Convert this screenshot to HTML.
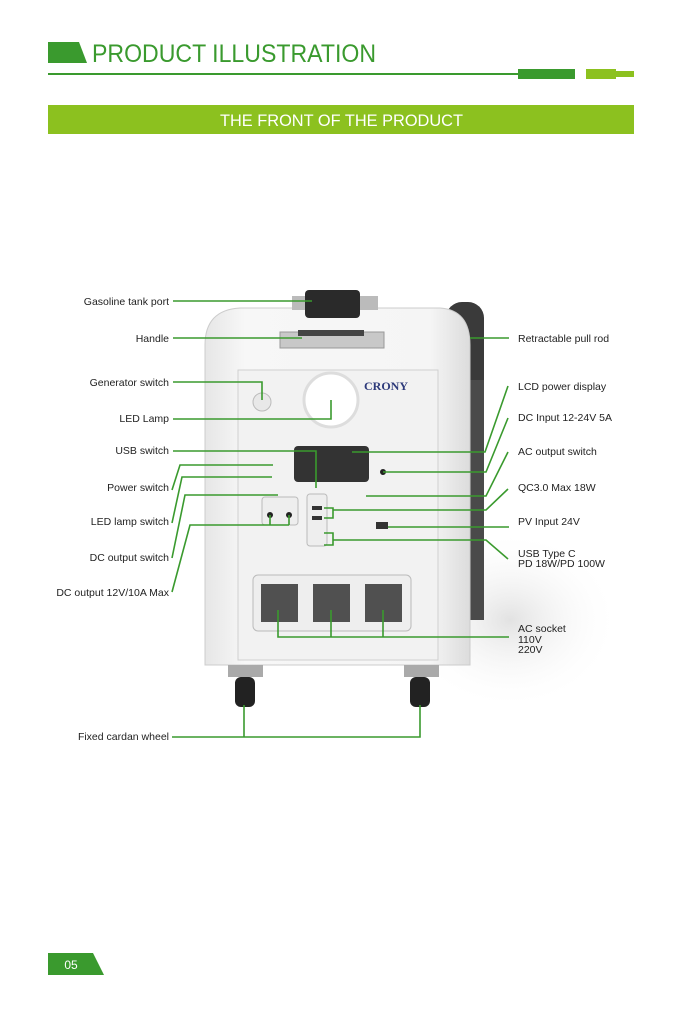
<!DOCTYPE html>
<html><head><meta charset="utf-8"><style>
html,body{margin:0;padding:0;background:#fff}
svg{display:block}
text{font-family:"Liberation Sans",sans-serif}
</style></head><body>
<svg width="683" height="1024" viewBox="0 0 683 1024" xmlns="http://www.w3.org/2000/svg">
<defs>
<linearGradient id="body" x1="0" x2="1"><stop offset="0" stop-color="#e6e6e6"/><stop offset="0.15" stop-color="#f7f7f7"/><stop offset="0.85" stop-color="#f5f5f5"/><stop offset="1" stop-color="#dcdcdc"/></linearGradient>
<radialGradient id="shadow" cx="0.5" cy="0.5" r="0.5"><stop offset="0" stop-color="#e2e2e2"/><stop offset="1" stop-color="#fff" stop-opacity="0"/></radialGradient>
</defs>
<!-- header -->
<polygon points="48,42 79,42 87,63 48,63" fill="#3a9a2e"/>
<text x="92" y="62" font-size="25" fill="#3a9a2e" textLength="284" lengthAdjust="spacingAndGlyphs">PRODUCT ILLUSTRATION</text>
<rect x="48" y="73" width="470" height="2" fill="#3a9a2e"/>
<rect x="518" y="69" width="57" height="10" fill="#3a9a2e"/>
<rect x="586" y="69" width="30" height="10" fill="#8cc11f"/>
<rect x="615" y="71" width="19" height="6" fill="#8cc11f"/>
<rect x="48" y="105" width="586" height="29" fill="#8cc11f"/>
<text x="220" y="126" font-size="17" fill="#fff" textLength="243" lengthAdjust="spacingAndGlyphs">THE FRONT OF THE PRODUCT</text>

<!-- shadow -->
<ellipse cx="510" cy="620" rx="110" ry="90" fill="url(#shadow)"/>
<!-- pull rod -->
<rect x="446" y="302" width="38" height="318" rx="16" fill="#3a3a3a"/>
<rect x="454" y="380" width="30" height="240" fill="#4a4a4a"/>
<!-- body -->
<path d="M205,345 Q205,310 240,308 L440,308 Q470,310 470,345 L470,665 L205,665 Z" fill="url(#body)" stroke="#ccc"/>
<rect x="238" y="370" width="200" height="290" fill="#f2f2f2" stroke="#d0d0d0"/>
<!-- top handle / tank -->
<rect x="292" y="296" width="86" height="14" fill="#bbb"/>
<rect x="305" y="290" width="55" height="28" rx="4" fill="#2a2a2a"/>
<rect x="280" y="332" width="104" height="16" fill="#c8c8c8" stroke="#999"/>
<rect x="298" y="330" width="66" height="6" fill="#444"/>
<!-- lamp -->
<circle cx="331" cy="400" r="27" fill="#fff" stroke="#ddd" stroke-width="3"/>
<circle cx="262" cy="402" r="9" fill="#e8e8e8" stroke="#bbb"/>
<text x="364" y="390" font-size="12" font-weight="bold" fill="#2d3a7a" style="font-family:'Liberation Serif',serif">CRONY</text>
<!-- LCD -->
<rect x="294" y="446" width="75" height="36" rx="4" fill="#333"/>
<circle cx="383" cy="472" r="3" fill="#222"/>
<rect x="262" y="497" width="36" height="28" rx="3" fill="#eee" stroke="#bbb"/>
<circle cx="270" cy="515" r="3" fill="#222"/><circle cx="289" cy="515" r="3" fill="#222"/>
<rect x="307" y="494" width="20" height="52" rx="3" fill="#eee" stroke="#bbb"/>
<rect x="312" y="506" width="10" height="4" fill="#333"/><rect x="312" y="516" width="10" height="4" fill="#333"/>
<rect x="376" y="522" width="12" height="7" fill="#333"/>
<!-- AC sockets -->
<rect x="253" y="575" width="158" height="56" rx="5" fill="#eee" stroke="#bbb"/>
<rect x="261" y="584" width="37" height="38" fill="#505050"/>
<rect x="313" y="584" width="37" height="38" fill="#505050"/>
<rect x="365" y="584" width="37" height="38" fill="#505050"/>
<!-- wheels -->
<rect x="228" y="665" width="35" height="12" fill="#aaa"/><rect x="404" y="665" width="35" height="12" fill="#aaa"/>
<rect x="235" y="677" width="20" height="30" rx="6" fill="#222"/><rect x="410" y="677" width="20" height="30" rx="6" fill="#222"/>

<!-- connectors -->
<g stroke="#3a9a2e" stroke-width="1.6" fill="none">
<path d="M173,301 H312"/>
<path d="M173,338 H302"/>
<path d="M173,382 H262 V400"/>
<path d="M173,419 H331 V400"/>
<path d="M173,451 H316 V488"/>
<path d="M172,490 L180,465 H273"/>
<path d="M172,523 L182,477 H272"/>
<path d="M172,558 L185,495 H278"/>
<path d="M172,592 L190,525 H289 M270,515 V525 M289,515 V525"/>
<path d="M470,338 H509"/>
<path d="M352,452 H485 L508,386"/>
<path d="M383,472 H486 L508,418"/>
<path d="M366,496 H486 L508,452"/>
<path d="M333,510 H486 L508,489 M324,508 H333 V518 H324"/>
<path d="M388,527 H509"/>
<path d="M333,540 H486 L508,559 M324,533 H333 V545 H324"/>
<path d="M278,610 V637 H509 M331,610 V637 M383,610 V637"/>
<path d="M172,737 H420 V705 M244,705 V737"/>
</g>

<!-- labels -->
<g font-size="10.5" fill="#222" text-anchor="end">
<text x="169" y="305">Gasoline tank port</text>
<text x="169" y="342">Handle</text>
<text x="169" y="386">Generator switch</text>
<text x="169" y="422">LED Lamp</text>
<text x="169" y="454">USB switch</text>
<text x="169" y="491">Power switch</text>
<text x="169" y="525">LED lamp switch</text>
<text x="169" y="561">DC output switch</text>
<text x="169" y="596">DC output 12V/10A Max</text>
<text x="169" y="740">Fixed cardan wheel</text>
</g>
<g font-size="10.5" fill="#222">
<text x="518" y="342">Retractable pull rod</text>
<text x="518" y="390">LCD power display</text>
<text x="518" y="421">DC Input 12-24V  5A</text>
<text x="518" y="455">AC output switch</text>
<text x="518" y="491">QC3.0  Max 18W</text>
<text x="518" y="525">PV Input 24V</text>
<text x="518" y="557">USB Type C</text>
<text x="518" y="567">PD  18W/PD 100W</text>
<text x="518" y="632">AC socket</text>
<text x="518" y="643">110V</text>
<text x="518" y="653">220V</text>
</g>

<!-- page number -->
<polygon points="48,953 93,953 104,975 48,975" fill="#3a9a2e"/>
<text x="71" y="969" font-size="12" fill="#fff" text-anchor="middle">05</text>
</svg>
</body></html>
